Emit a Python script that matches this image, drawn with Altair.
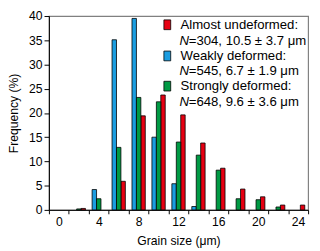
import altair as alt
import pandas as pd

# Grain-size bin centres (µm)
sizes = [0, 2, 4, 6, 8, 10, 12, 14, 16, 18, 20, 22, 24]

# Frequencies (%) per bin
weakly = [0, 0, 4.2, 35.1, 39.5, 15.0, 5.4, 0.7, 0, 0, 0, 0, 0]
strongly = [0, 0.2, 2.3, 12.9, 23.2, 22.3, 14.0, 11.3, 8.2, 2.3, 2.1, 0.6, 0]
almost = [0, 0.3, 0, 5.9, 19.4, 23.7, 19.6, 13.8, 8.6, 4.3, 2.7, 1.0, 1.0]

series_names = ["Almost undeformed", "Weakly deformed", "Strongly deformed"]
series_n = [304, 545, 648]
series_mean = [10.5, 6.7, 9.6]
series_sd = [3.7, 1.9, 3.6]
series_colors = ["#E60012", "#1B9DE0", "#009A44"]
bar_order = ["Weakly deformed", "Strongly deformed", "Almost undeformed"]

FONT = "Liberation Sans"

rows = []
for name, vals in zip(series_names, [almost, weakly, strongly]):
    for s, v in zip(sizes, vals):
        rows.append({"size": s, "series": name, "freq": v})
df = pd.DataFrame(rows)

bars = alt.Chart(df).transform_filter("datum.freq > 0").mark_bar(
    stroke="black", strokeWidth=0.8
).encode(
    x=alt.X(
        "size:O",
        scale=alt.Scale(domain=sizes, paddingInner=0, paddingOuter=0),
        axis=alt.Axis(
            title="Grain size (μm)",
            labelAngle=0,
            labelExpr="datum.value % 4 == 0 ? datum.label : ''",
            tickBand="extent",
            tickSize=4,
            labelPadding=2,
            titlePadding=7,
        ),
    ),
    xOffset=alt.XOffset(
        "series:N",
        scale=alt.Scale(domain=bar_order, paddingInner=0, paddingOuter=0.75),
    ),
    y=alt.Y(
        "freq:Q",
        scale=alt.Scale(domain=[0, 40], nice=False),
        axis=alt.Axis(
            title="Frequency (%)",
            values=list(range(0, 45, 5)),
            grid=False,
            tickSize=5,
            labelPadding=2,
            titlePadding=8,
        ),
    ),
    color=alt.Color(
        "series:N",
        scale=alt.Scale(domain=series_names, range=series_colors),
        legend=None,
    ),
)

one = pd.DataFrame({"a": [0]})
layers = [bars]
line_y = [9, 26, 41, 57, 72, 88]
for i, name in enumerate(series_names):
    y1 = line_y[2 * i]
    y2 = line_y[2 * i + 1]
    sym = alt.Chart(one).mark_rect(
        fill=series_colors[i], stroke="black", strokeWidth=0.8
    ).encode(
        x=alt.value(118), x2=alt.value(125), y=alt.value(y1 - 5), y2=alt.value(y1 + 5)
    )
    t1 = alt.Chart(one).mark_text(
        align="left", baseline="middle", fontSize=13.5, font=FONT, color="black"
    ).encode(x=alt.value(135), y=alt.value(y1), text=alt.value(name + ":"))
    tn = alt.Chart(one).mark_text(
        align="left", baseline="middle", fontSize=13.5, font=FONT, fontStyle="italic", color="black"
    ).encode(x=alt.value(134), y=alt.value(y2), text=alt.value("N"))
    t2 = alt.Chart(one).mark_text(
        align="left", baseline="middle", fontSize=13.5, font=FONT, color="black"
    ).encode(
        x=alt.value(143.5),
        y=alt.value(y2),
        text=alt.value(f"={series_n[i]}, {series_mean[i]} ± {series_sd[i]} μm"),
    )
    layers += [sym, t1, tn, t2]

chart = alt.layer(*layers).properties(
    width=266,
    height=199,
    autosize=alt.AutoSizeParams(type="none"),
    padding={"left": 42, "top": 5, "right": 4, "bottom": 40},
).configure_view(
    stroke="#808080", strokeWidth=1.2
).configure_axis(
    labelFont=FONT,
    titleFont=FONT,
    labelFontSize=12.5,
    titleFontSize=12.5,
    titleFontWeight="normal",
    labelColor="black",
    titleColor="black",
    domainColor="black",
    tickColor="black",
    domainWidth=1,
    tickWidth=1,
)

chart.save("out.html", embed_options={"renderer": "svg", "actions": False})
